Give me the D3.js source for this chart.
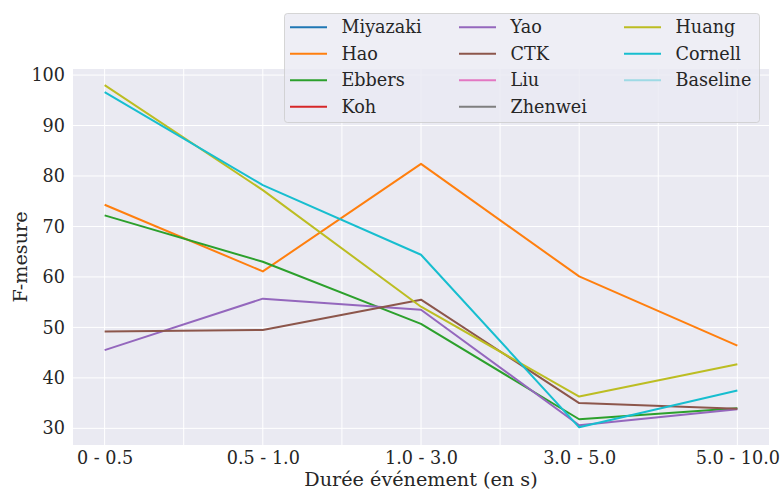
<!DOCTYPE html>
<html>
<head>
<meta charset="utf-8">
<script src="https://cdn.jsdelivr.net/npm/d3@7"></script>
<style>
  html, body { margin: 0; padding: 0; background: #ffffff; }
  svg { display: block; }
  text { font-family: "DejaVu Serif", serif; fill: #262626; }
</style>
</head>
<body>
<svg id="chart" width="782" height="490"></svg>
<script>
// ---- data ----
const categories = ["0 - 0.5", "0.5 - 1.0", "1.0 - 3.0", "3.0 - 5.0", "5.0 - 10.0"];
const seriesNames = ["Miyazaki", "Hao", "Ebbers", "Koh", "Yao", "CTK", "Liu", "Zhenwei", "Huang", "Cornell", "Baseline"];
const seriesColors = ["#1f77b4", "#ff7f0e", "#2ca02c", "#d62728", "#9467bd", "#8c564b", "#e377c2", "#7f7f7f", "#bcbd22", "#17becf", "#9edae5"];
const miyazaki = [];
const hao      = [74.3, 61.1, 82.4, 60.1, 46.4];
const ebbers   = [72.2, 63.0, 50.7, 31.8, 34.0];
const koh      = [];
const yao      = [45.5, 55.7, 53.5, 30.6, 33.8];
const ctk      = [49.2, 49.5, 55.5, 35.0, 33.9];
const liu      = [];
const zhenwei  = [];
const huang    = [98.0, 77.2, 54.1, 36.3, 42.7];
const cornell  = [96.6, 78.2, 64.4, 30.2, 37.5];
const baseline = [];
const yTicks = [30, 40, 50, 60, 70, 80, 90, 100];
const xLabel = "Durée événement (en s)";
const yLabel = "F-mesure";

const seriesValues = [miyazaki, hao, ebbers, koh, yao, ctk, liu, zhenwei, huang, cornell, baseline];

// ---- layout ----
const svg = d3.select("#chart");
const plot = { left: 73, right: 769, top: 69, bottom: 445 };
const tickFont = 17.6, labelFont = 19.2;

const x = d3.scaleLinear().domain([-0.2, 4.2]).range([plot.left, plot.right]);
const y = d3.scaleLinear().domain([26.7, 101.2]).range([plot.bottom, plot.top]);

// background
svg.append("rect")
  .attr("x", plot.left).attr("y", plot.top)
  .attr("width", plot.right - plot.left).attr("height", plot.bottom - plot.top)
  .attr("fill", "#EAEAF2");

const grid = svg.append("g");
const xGrid = d3.range(0, categories.length - 0.5 + 0.01, 0.5);
grid.selectAll("line.vx").data(xGrid).join("line")
  .attr("x1", d => x(d)).attr("x2", d => x(d))
  .attr("y1", plot.top).attr("y2", plot.bottom)
  .attr("stroke", "#ffffff").attr("stroke-width", 1);
grid.selectAll("line.hy").data(yTicks).join("line")
  .attr("x1", plot.left).attr("x2", plot.right)
  .attr("y1", d => y(d)).attr("y2", d => y(d))
  .attr("stroke", "#ffffff").attr("stroke-width", 1);

// axes (tick labels only)
const xAxis = d3.axisBottom(x)
  .tickValues(d3.range(categories.length))
  .tickFormat(i => categories[i])
  .tickSize(0).tickPadding(6.5);
const gx = svg.append("g").attr("transform", `translate(0,${plot.bottom})`).call(xAxis);
gx.select(".domain").remove();
gx.selectAll("text").attr("font-family", "DejaVu Serif").attr("font-size", tickFont).attr("fill", "#262626");

const yAxis = d3.axisLeft(y).tickValues(yTicks).tickSize(0).tickPadding(8);
const gy = svg.append("g").attr("transform", `translate(${plot.left},0)`).call(yAxis);
gy.select(".domain").remove();
gy.selectAll("text").attr("font-family", "DejaVu Serif").attr("font-size", tickFont).attr("fill", "#262626");

// axis labels
svg.append("text")
  .attr("x", (plot.left + plot.right) / 2).attr("y", 486)
  .attr("text-anchor", "middle").attr("font-size", labelFont)
  .text(xLabel);
svg.append("text")
  .attr("transform", `translate(27,${(plot.top + plot.bottom) / 2}) rotate(-90)`)
  .attr("text-anchor", "middle").attr("font-size", labelFont)
  .text(yLabel);

// lines
const line = d3.line().x((d, i) => x(i)).y(d => y(d));
const lines = svg.append("g");
seriesValues.forEach((vals, k) => {
  if (!vals.length) return;
  lines.append("path")
    .datum(vals)
    .attr("d", line)
    .attr("fill", "none")
    .attr("stroke", seriesColors[k])
    .attr("stroke-width", 2)
    .attr("stroke-linejoin", "round");
});

// legend
const leg = svg.append("g");
leg.append("rect")
  .attr("x", 284.5).attr("y", 13.5).attr("width", 475).attr("height", 109)
  .attr("rx", 3).attr("ry", 3)
  .attr("fill", "#EAEAF2").attr("fill-opacity", 0.8)
  .attr("stroke", "#cccccc").attr("stroke-opacity", 0.8).attr("stroke-width", 1);
const colX = [290, 459, 624];
const rowY = [27.3, 53.8, 80.2, 106.7];
seriesNames.forEach((name, k) => {
  const c = Math.floor(k / 4), r = k % 4;
  leg.append("line")
    .attr("x1", colX[c]).attr("x2", colX[c] + 37)
    .attr("y1", rowY[r]).attr("y2", rowY[r])
    .attr("stroke", seriesColors[k]).attr("stroke-width", 2);
  leg.append("text")
    .attr("x", colX[c] + 51.5).attr("y", rowY[r])
    .attr("dy", "0.35em").attr("font-size", tickFont)
    .text(name);
});
</script>
</body>
</html>
